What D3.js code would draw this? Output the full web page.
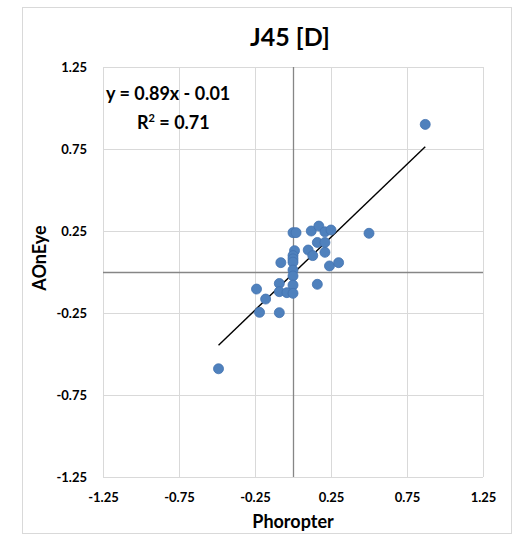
<!DOCTYPE html>
<html>
<head>
<meta charset="utf-8">
<script src="https://cdn.jsdelivr.net/npm/d3@7"></script>
<style>
  html, body { margin: 0; padding: 0; background: #fff; }
  svg { display: block; }
  text { font-family: Lato, "Open Sans", sans-serif; font-weight: bold; fill: #000; }
</style>
</head>
<body>
<svg id="chart" width="516" height="537"></svg>
<script>
// ---- data ----
const phoropter = [
  0.00, 0.02, 0.12, 0.17, 0.21, 0.25, 0.50,
  0.16, 0.21, 0.10, 0.13, 0.21,
  0.01, 0.00, 0.00, 0.00,
  -0.08, 0.24, 0.30,
  0.00, 0.00, -0.09, 0.16, 0.00,
  -0.24, -0.09, -0.04, 0.00, -0.18,
  -0.22, -0.09,
  0.87, -0.49
];
const aoneye = [
  0.24, 0.24, 0.25, 0.28, 0.245, 0.256, 0.236,
  0.18, 0.18, 0.134, 0.10, 0.12,
  0.13, 0.10, 0.08, 0.06,
  0.057, 0.037, 0.057,
  0.012, -0.024, -0.07, -0.075, -0.08,
  -0.104, -0.12, -0.126, -0.13, -0.165,
  -0.246, -0.248,
  0.90, -0.59
];
const tickValues = [-1.25, -0.75, -0.25, 0.25, 0.75, 1.25];
const tickLabels = ["-1.25", "-0.75", "-0.25", "0.25", "0.75", "1.25"];
const slope = 0.89, intercept = -0.01;
const titleText = "J45 [D]";
const xTitle = "Phoropter", yTitle = "AOnEye";
const eqText = "y = 0.89x - 0.01";

// ---- drawing ----
const svg = d3.select("#chart");
const x = d3.scaleLinear().domain([-1.25, 1.25]).range([103, 483]);
const y = d3.scaleLinear().domain([-1.25, 1.25]).range([477, 67]);

// outer chart border
svg.append("rect").attr("x", 22.5).attr("y", 7.5).attr("width", 489).attr("height", 526)
  .attr("fill", "#fff").attr("stroke", "#d9d9d9").attr("stroke-width", 1);

// gridlines
const grid = svg.append("g");
grid.selectAll("line.v").data(tickValues).join("line")
  .attr("x1", d => Math.round(x(d)) + 0.5).attr("x2", d => Math.round(x(d)) + 0.5)
  .attr("y1", y(1.25)).attr("y2", y(-1.25))
  .attr("stroke", "#d9d9d9").attr("stroke-width", 1);
grid.selectAll("line.h").data(tickValues).join("line")
  .attr("y1", d => Math.round(y(d)) + 0.5).attr("y2", d => Math.round(y(d)) + 0.5)
  .attr("x1", x(-1.25)).attr("x2", x(1.25))
  .attr("stroke", "#d9d9d9").attr("stroke-width", 1);

// zero axes
svg.append("line").attr("x1", Math.round(x(0)) + 0.5).attr("x2", Math.round(x(0)) + 0.5)
  .attr("y1", y(1.25)).attr("y2", y(-1.25)).attr("stroke", "#868686").attr("stroke-width", 1.3);
svg.append("line").attr("y1", Math.round(y(0)) + 0.5).attr("y2", Math.round(y(0)) + 0.5)
  .attr("x1", x(-1.25)).attr("x2", x(1.25)).attr("stroke", "#868686").attr("stroke-width", 1.3);

// tick labels
const yAxis = d3.axisLeft(y).tickValues(tickValues).tickSize(0).tickPadding(0)
  .tickFormat((d, i) => tickLabels[i]);
const gy = svg.append("g").attr("transform", "translate(87,0)").call(yAxis);
gy.select(".domain").remove();
gy.selectAll("text").attr("font-size", 13).attr("font-family", "Lato, sans-serif").attr("font-weight", "bold").attr("fill", "#000");

const xAxis = d3.axisBottom(x).tickValues(tickValues).tickSize(0).tickPadding(0)
  .tickFormat((d, i) => tickLabels[i]);
const gx = svg.append("g").attr("transform", "translate(0,493)").call(xAxis);
gx.select(".domain").remove();
gx.selectAll("text").attr("font-size", 13).attr("font-family", "Lato, sans-serif").attr("font-weight", "bold").attr("fill", "#000");

// trendline
const xs = d3.extent(phoropter);
svg.append("line")
  .attr("x1", x(xs[0])).attr("y1", y(slope * xs[0] + intercept))
  .attr("x2", x(xs[1])).attr("y2", y(slope * xs[1] + intercept))
  .attr("stroke", "#000").attr("stroke-width", 1.4);

// points
svg.append("g").selectAll("circle").data(phoropter.map((d, i) => [d, aoneye[i]])).join("circle")
  .attr("cx", d => x(d[0])).attr("cy", d => y(d[1])).attr("r", 5)
  .attr("fill", "#4F81BD").attr("stroke", "#4272b0").attr("stroke-width", 0.8);

// equation
svg.append("text").attr("x", 106).attr("y", 100).attr("font-size", 18).text(eqText);
const r2 = svg.append("text").attr("x", 137).attr("y", 129).attr("font-size", 18);
r2.append("tspan").text("R");
r2.append("tspan").attr("font-size", 11).attr("dy", -7).text("2");
r2.append("tspan").attr("dy", 7).text(" = 0.71");

// titles
svg.append("text").attr("x", 290).attr("y", 46).attr("text-anchor", "middle").attr("font-size", 25).text(titleText);
svg.append("text").attr("x", 293).attr("y", 528).attr("text-anchor", "middle").attr("font-size", 18).text(xTitle);
svg.append("text").attr("transform", "translate(46,258) rotate(-90)").attr("text-anchor", "middle").attr("font-size", 18).text(yTitle);
</script>
</body>
</html>
